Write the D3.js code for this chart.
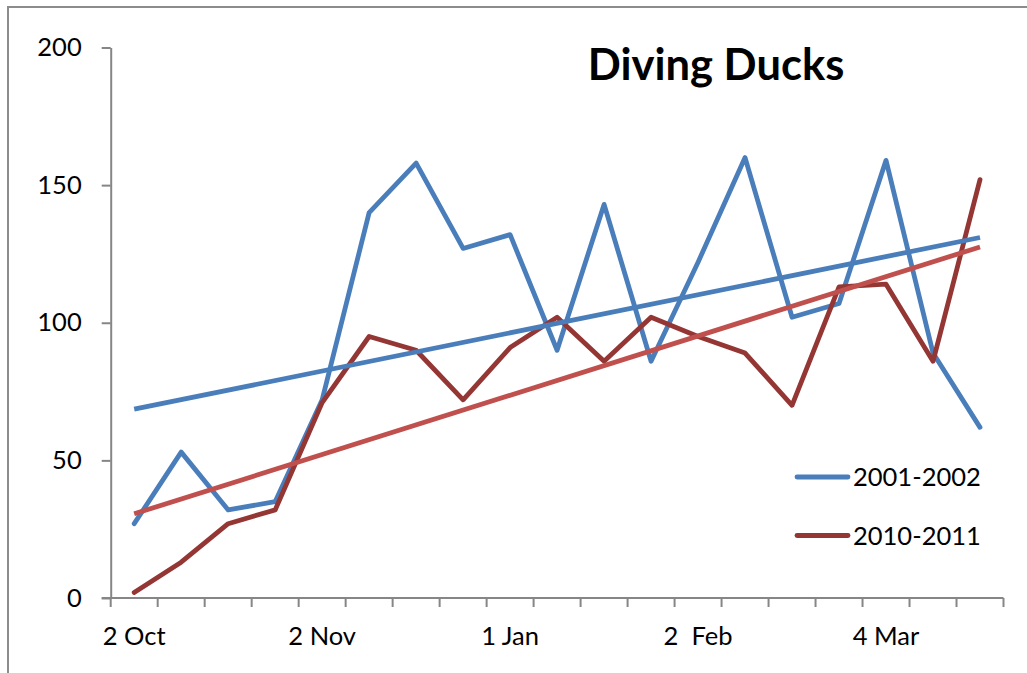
<!DOCTYPE html>
<html>
<head>
<meta charset="utf-8">
<script src="https://cdn.jsdelivr.net/npm/d3@7"></script>
<style>
  html, body { margin: 0; padding: 0; background: #fff; }
  svg { display: block; }
  text { font-family: Lato, "Liberation Sans", sans-serif; fill: #000; }
</style>
</head>
<body>
<svg id="chart" width="1027" height="673"></svg>
<script>
// Survey counts of diving ducks, 19 surveys per season
const tickLabels = ["2 Oct", "", "", "", "2 Nov", "", "", "", "1 Jan", "", "", "",
                    "2  Feb", "", "", "", "4 Mar", "", ""];
const season2001 = [27, 53, 32, 35, 72, 140, 158, 127, 132, 90, 143, 86, 122, 160, 102, 107, 159, 89, 62];
const season2010 = [2, 13, 27, 32, 71, 95, 90, 72, 91, 102, 86, 102, 95, 89, 70, 113, 114, 86, 152];
const seriesNames = ["2001-2002", "2010-2011"];
const yTicks = [0, 50, 100, 150, 200];

const svg = d3.select("#chart");
const W = 1027, H = 673;
const plot = { left: 110.7, right: 1003.5, top: 47.5, bottom: 598 };

const axisColor = "#868686";
const blue = "#4A7EBB";
const darkRed = "#943634";
const trendRed = "#C0504D";

// Outer chart-area frame (left and top edges show)
svg.append("path")
  .attr("d", `M8,${H} L8,7 L${W},7`)
  .attr("fill", "none").attr("stroke", "#8c8c8c").attr("stroke-width", 2);

const idx = tickLabels.map((d, i) => i);
const x = d3.scaleBand().domain(idx).range([plot.left, plot.right]).padding(0);
const cx = i => x(i) + x.bandwidth() / 2;
const y = d3.scaleLinear().domain([0, 200]).range([plot.bottom, plot.top]);

// Y axis
const yAxis = svg.append("g").attr("transform", `translate(${plot.left},0)`)
  .call(d3.axisLeft(y).tickValues(yTicks).tickSizeOuter(0).tickSizeInner(9).tickPadding(20));
yAxis.select(".domain").attr("stroke", axisColor).attr("stroke-width", 2);
yAxis.selectAll(".tick line").attr("stroke", axisColor).attr("stroke-width", 2);
yAxis.selectAll(".tick text").attr("font-size", 25.5).attr("font-family", "Lato, sans-serif").attr("fill", "#000");

// X axis: tick marks at category boundaries, labels centred on categories
const xAxis = svg.append("g").attr("transform", `translate(0,${plot.bottom})`);
xAxis.append("line")
  .attr("x1", plot.left - 9).attr("x2", plot.right)
  .attr("stroke", axisColor).attr("stroke-width", 2);
const bounds = idx.map(i => x(i)).concat([plot.right]);
xAxis.selectAll("line.tk").data(bounds).join("line").attr("class", "tk")
  .attr("x1", d => d).attr("x2", d => d).attr("y1", 0).attr("y2", 9)
  .attr("stroke", axisColor).attr("stroke-width", 2);
xAxis.selectAll("text").data(idx.filter(i => tickLabels[i] !== "")).join("text")
  .attr("x", i => cx(i)).attr("y", 47)
  .attr("text-anchor", "middle").attr("font-size", 25.5)
  .style("white-space", "pre")
  .text(i => tickLabels[i]);

// Least-squares trend over the survey index
function trend(vals) {
  const n = vals.length;
  const mx = d3.mean(idx), my = d3.mean(vals);
  let sxy = 0, sxx = 0;
  vals.forEach((v, i) => { sxy += (i - mx) * (v - my); sxx += (i - mx) * (i - mx); });
  const b = sxy / sxx, a = my - b * mx;
  return [0, n - 1].map(i => [i, a + b * i]);
}

const line = d3.line().x(d => cx(d[0])).y(d => y(d[1]));
const lineW = 4.8;

const g = svg.append("g");
g.append("path").datum(season2001.map((v, i) => [i, v])).attr("d", line)
  .attr("fill", "none").attr("stroke", blue).attr("stroke-width", lineW)
  .attr("stroke-linejoin", "round").attr("stroke-linecap", "round");
g.append("path").datum(season2010.map((v, i) => [i, v])).attr("d", line)
  .attr("fill", "none").attr("stroke", darkRed).attr("stroke-width", lineW)
  .attr("stroke-linejoin", "round").attr("stroke-linecap", "round");
g.append("path").datum(trend(season2001)).attr("d", line)
  .attr("fill", "none").attr("stroke", blue).attr("stroke-width", lineW);
g.append("path").datum(trend(season2010)).attr("d", line)
  .attr("fill", "none").attr("stroke", trendRed).attr("stroke-width", lineW);

// Title
svg.append("text").attr("x", 716).attr("y", 80)
  .attr("text-anchor", "middle").attr("font-size", 43.5).attr("font-weight", "bold")
  .text("Diving Ducks");

// Legend
const legend = svg.append("g");
const legendColors = [blue, darkRed];
seriesNames.forEach((name, k) => {
  const ly = 477 + k * 58.5;
  legend.append("line").attr("x1", 797).attr("x2", 848).attr("y1", ly).attr("y2", ly)
    .attr("stroke", legendColors[k]).attr("stroke-width", lineW).attr("stroke-linecap", "round");
  legend.append("text").attr("x", 853).attr("y", ly + 9).attr("font-size", 25.5).text(name);
});
</script>
</body>
</html>
